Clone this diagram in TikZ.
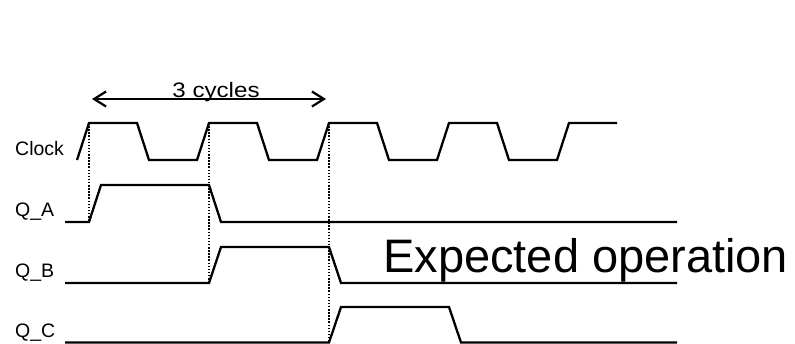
\documentclass[tikz,border=0pt]{standalone}
\usepackage{fontspec}
\setmainfont{Liberation Sans}
\usetikzlibrary{arrows.meta}
\begin{document}
\begin{tikzpicture}[x=1pt,y=-1pt,
  wave/.style={line width=2.3pt, line join=miter, line cap=butt},
  guide/.style={line width=1.5pt, dash pattern=on 1.5pt off 1.6pt},
  sig/.style={anchor=base west, inner sep=0pt, font=\fontsize{19.5}{19.5}\selectfont},
  span/.style={line width=2.2pt, {Straight Barb[length=12pt,width=15pt]}-{Straight Barb[length=12pt,width=15pt]}}
]
\useasboundingbox (0,0) rectangle (795,343);

% signal names
\node[sig] (lclk) at (15,155) {Clock};
\node[sig] (lqa) at (15,216) {Q\_A};
\node[sig] (lqb) at (15,277) {Q\_B};
\node[sig] (lqc) at (15,337) {Q\_C};

% clock waveform: period 120, edges 12 wide
\draw[wave] (77,160) -- (89,123) -- (137,123) -- (149,160) -- (197,160)
  -- (209,123) coordinate (c2) -- (257,123) -- (269,160) -- (317,160)
  -- (329,123) coordinate (c3) -- (377,123) -- (389,160) -- (437,160)
  -- (449,123) -- (497,123) -- (509,160) -- (557,160)
  -- (569,123) -- (617,123);
\coordinate (c1) at (89,123);

% Q_A
\draw[wave] (65,222) -- (89,222) coordinate (a1) -- (101,185) -- (209,185)
  -- (221,222) -- (677,222);
% Q_B
\draw[wave] (65,283) -- (209,283) coordinate (b1) -- (221,247) -- (329,247)
  -- (341,283) -- (677,283);
% Q_C
\draw[wave] (65,342.5) -- (329,342.5) coordinate (q1) -- (341,307) -- (449,307)
  -- (461,342.5) -- (677,342.5);

% dotted alignment guides from the clock edges
\draw[guide] (c1) -- (a1);
\draw[guide] (c2) -- (b1);
\draw[guide] (c3) -- (q1);

% three-cycle span
\coordinate (s1) at (92,99);
\coordinate (s2) at (326,99);
\draw[span] (s1) -- (s2);
\node[anchor=base, inner sep=0pt, xscale=1.15, font=\fontsize{21}{21}\selectfont] (lspan) at (216,97) {3 cycles};

% caption
\node[anchor=base west, inner sep=0pt, font=\fontsize{47}{47}\selectfont] (cap) at (383,272) {Expected operation};
\end{tikzpicture}
\end{document}
